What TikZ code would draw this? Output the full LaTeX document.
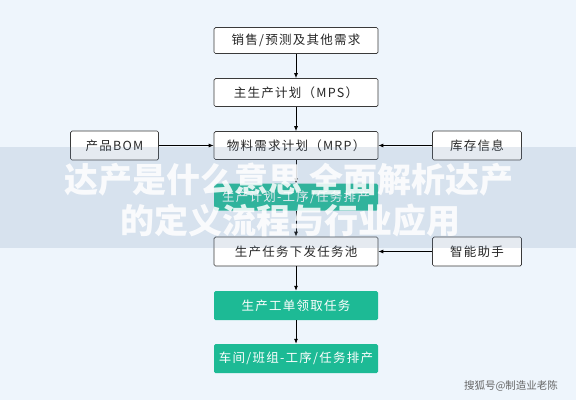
\documentclass[tikz,border=0pt]{standalone}
\usepackage{fontspec}
\setmainfont{Noto Sans CJK SC}
\newfontfamily\boxfont[LetterSpace=10]{Noto Sans CJK SC}
\usetikzlibrary{arrows.meta}
\definecolor{bgc}{HTML}{EEF5FC}
\definecolor{bandc}{HTML}{7D98B8}
\definecolor{greenc}{HTML}{1DBA95}
\definecolor{bordc}{HTML}{3A3A3A}
\tikzset{
  wbox/.style={draw=bordc, line width=0.7pt, fill=white, rounded corners=1.5pt,
    minimum width=164pt, minimum height=28pt, inner sep=0pt, font=\boxfont\fontsize{12.5}{14}\selectfont, text=black!85},
  gbox/.style={fill=greenc, rounded corners=1.5pt, minimum width=164pt, minimum height=28pt,
    inner sep=0pt, font=\boxfont\fontsize{12.5}{14}\selectfont, text=white},
  sbox/.style={wbox, minimum width=88pt},
  conn/.style={-{Latex[length=5pt,width=4pt]}, line width=0.8pt, black},
  wmark/.style={text=white, opacity=0.85, font=\fontsize{34}{36}\selectfont\bfseries},
}
\begin{document}
\begin{tikzpicture}[x=1pt,y=-1pt]
\fill[bgc] (0,0) rectangle (576,400);
\useasboundingbox (0,0) rectangle (576,400);
\node[wbox, minimum height=26pt] (b1) at (296,40.5) {销售/预测及其他需求};
\node[wbox] (b2) at (296,92.5) {主生产计划（MPS）};
\node[wbox] (b3) at (296,145.5) {物料需求计划（MRP）};
\node[gbox, minimum height=27pt] (b4) at (296,197) {生产计划-工序/任务排产};
\node[wbox, minimum height=29pt] (b5) at (296,251.5) {生产任务下发任务池};
\node[gbox, minimum height=29pt] (b6) at (296,305.5) {生产工单领取任务};
\node[gbox, minimum height=29pt] (b7) at (296,358.5) {车间/班组-工序/任务排产};
\node[sbox, minimum height=29pt] (bom) at (114.5,145.5) {产品BOM};
\node[sbox, minimum width=89pt, minimum height=29pt] (kc) at (477,145.5) {库存信息};
\node[sbox, minimum width=89pt, minimum height=29pt] (zn) at (477,251.5) {智能助手};
\draw[conn] (b1) -- (b2);
\draw[conn] (b2) -- (b3);
\draw[conn] (b3) -- (b4);
\draw[conn] (b4) -- (b5);
\draw[conn] (b5) -- (b6);
\draw[conn] (b6) -- (b7);
\draw[conn] (bom) -- (b3);
\draw[conn] (kc) -- (b3);
\draw[conn] (zn) -- (b5);
% overlay band
\fill[bandc, opacity=0.2] (0,147) rectangle (576,248);
\node[wmark] (w1) at (289,180) {达产是什么意思 全面解析达产};
\node[wmark] (w2) at (290,221) {的定义流程与行业应用};
\node[text=black!60, font=\fontsize{10.5}{12}\selectfont] (wm) at (511,386) {搜狐号@制造业老陈};
\end{tikzpicture}
\end{document}
